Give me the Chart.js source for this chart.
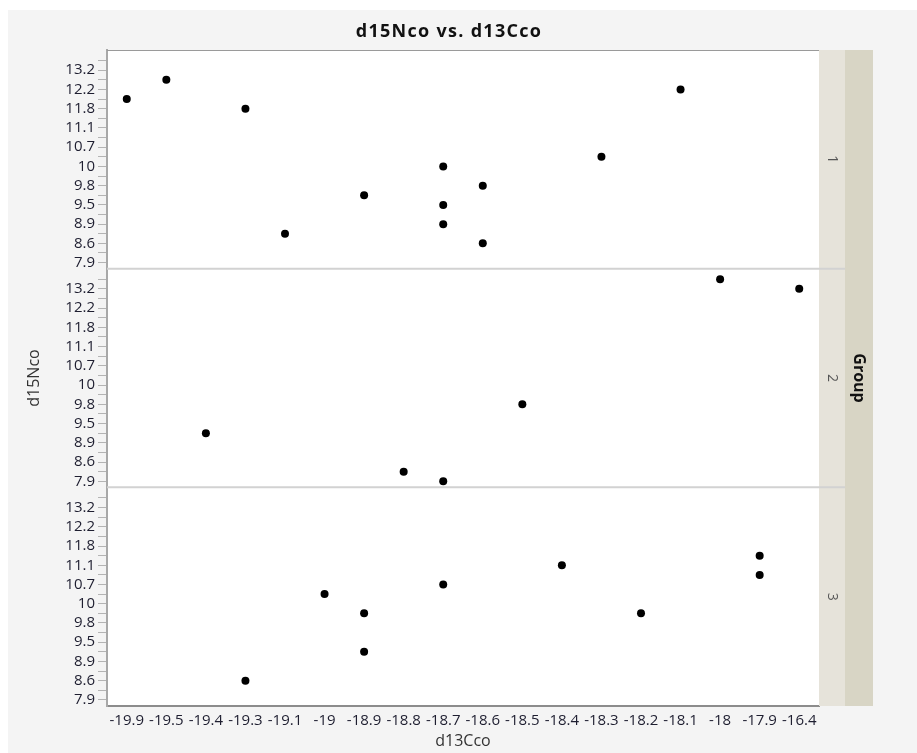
<!DOCTYPE html>
<html>
<head>
<meta charset="utf-8">
<script src="https://cdn.jsdelivr.net/npm/chart.js@4.4.1/dist/chart.umd.min.js"></script>
<style>
  html, body { margin: 0; padding: 0; background: #fff; }
  #wrap { width: 917px; height: 753px; }
</style>
</head>
<body>
<div id="wrap"><canvas id="myChart" width="917" height="753"></canvas></div>
<script>
// x categories (d13Cco), shown in order on an ordinal axis
let xCats = ["-19.9", "-19.5", "-19.4", "-19.3", "-19.1", "-19", "-18.9", "-18.8", "-18.7",
             "-18.6", "-18.5", "-18.4", "-18.3", "-18.2", "-18.1", "-18", "-17.9", "-16.4"];

// y categories (d15Nco), bottom to top; only some get a label
let yCats = [7.9, 8.3, 8.6, 8.8, 8.9, 9.2, 9.5, 9.6, 9.8, 9.9, 10, 10.4,
             10.7, 10.9, 11.1, 11.5, 11.8, 12, 12.2, 12.6, 13.2, 13.6];
let yShown = [7.9, 8.6, 8.9, 9.5, 9.8, 10, 10.7, 11.1, 11.8, 12.2, 13.2];

let groupNames = ["1", "2", "3"];

let g1x = ["-19.9", "-19.5", "-19.3", "-19.1", "-18.9", "-18.7", "-18.7", "-18.7", "-18.6", "-18.6", "-18.3", "-18.1"];
let g1y = [12, 12.6, 11.8, 8.8, 9.6, 10, 9.5, 8.9, 9.8, 8.6, 10.4, 12.2];

let g2x = ["-19.4", "-18.8", "-18.7", "-18.5", "-18", "-16.4"];
let g2y = [9.2, 8.3, 7.9, 9.8, 13.6, 13.2];

let g3x = ["-19.3", "-19", "-18.9", "-18.9", "-18.7", "-18.4", "-18.2", "-17.9", "-17.9"];
let g3y = [8.6, 10.4, 9.9, 9.2, 10.7, 11.1, 9.9, 11.5, 10.9];

const FONT = "'Open Sans', 'Noto Sans', sans-serif";
const TITLE = "d15Nco vs. d13Cco";

function toPoints(xs, ys) {
    return xs.map((x, i) => ({ x: x, y: yCats.indexOf(ys[i]) }));
}

function yAxis(showTitle) {
    return {
        type: "linear",
        position: "left",
        stack: "groups",
        stackWeight: 1,
        min: -0.63,
        max: 22.1,
        afterBuildTicks: s => { s.ticks = yCats.map((v, i) => ({ value: i })); },
        afterFit: s => { s.width = 107; },
        border: { display: true, color: "#a8a8a8", width: 2 },
        grid: { drawOnChartArea: false, drawTicks: true, tickLength: 9, color: "#b4b4b4" },
        ticks: {
            autoSkip: false,
            padding: 3,
            color: "#1e1e30",
            font: { family: FONT, size: 15 },
            callback: v => yShown.includes(yCats[v]) ? String(yCats[v]) : ""
        },
        title: {
            display: showTitle,
            text: "d15Nco",
            color: "#333",
            font: { family: FONT, size: 16 },
            padding: { top: 25, bottom: 0 }
        }
    };
}

// background, frame, title, right-hand group strips
const frame = {
    id: "frame",
    beforeDraw(chart) {
        let ctx = chart.ctx;
        let a = chart.chartArea;
        ctx.save();
        ctx.fillStyle = "#fff";
        ctx.fillRect(0, 0, chart.width, chart.height);
        ctx.fillStyle = "#f4f4f4";
        ctx.fillRect(8, 10, chart.width - 8, chart.height - 10);
        ctx.fillStyle = "#fff";
        ctx.fillRect(a.left, a.top, a.right - a.left, a.bottom - a.top);

        ctx.fillStyle = "#111";
        ctx.font = "bold 18px " + FONT;
        ctx.letterSpacing = "1.3px";
        ctx.textAlign = "center";
        ctx.textBaseline = "middle";
        ctx.fillText(TITLE, 449, 32);
        ctx.restore();
    },
    afterDraw(chart) {
        let ctx = chart.ctx;
        let a = chart.chartArea;
        let panels = [chart.scales.y1, chart.scales.y2, chart.scales.y3];
        ctx.save();
        ctx.fillStyle = "#e6e3da";
        ctx.fillRect(a.right, a.top, 26, a.bottom - a.top);
        ctx.fillStyle = "#d8d5c5";
        ctx.fillRect(a.right + 26, a.top, 28, a.bottom - a.top);

        ctx.strokeStyle = "#9a9a9a";
        ctx.lineWidth = 1;
        ctx.beginPath();
        ctx.moveTo(a.left, a.top + 0.5);
        ctx.lineTo(a.right, a.top + 0.5);
        ctx.stroke();

        ctx.strokeStyle = "#d2d2d2";
        ctx.lineWidth = 2;
        for (let i = 0; i < 2; i++) {
            let y = panels[i].bottom;
            ctx.beginPath();
            ctx.moveTo(a.left, y);
            ctx.lineTo(a.right + 26, y);
            ctx.stroke();
        }

        ctx.fillStyle = "#555";
        ctx.font = "14px " + FONT;
        ctx.textAlign = "center";
        ctx.textBaseline = "middle";
        panels.forEach((p, i) => {
            ctx.save();
            ctx.translate(a.right + 13, (p.top + p.bottom) / 2);
            ctx.rotate(Math.PI / 2);
            ctx.fillText(groupNames[i], 0, 0);
            ctx.restore();
        });

        ctx.fillStyle = "#111";
        ctx.font = "bold 16px " + FONT;
        ctx.translate(a.right + 40, (a.top + a.bottom) / 2);
        ctx.rotate(Math.PI / 2);
        ctx.fillText("Group", 0, 0);
        ctx.restore();
    }
};

function dataset(xs, ys, axisId) {
    return {
        data: toPoints(xs, ys),
        yAxisID: axisId,
        backgroundColor: "#000",
        borderWidth: 0,
        pointRadius: 4,
        pointHoverRadius: 4
    };
}

let chart = new Chart(document.getElementById("myChart"), {
    type: "scatter",
    data: {
        labels: xCats,
        datasets: [
            dataset(g1x, g1y, "y1"),
            dataset(g2x, g2y, "y2"),
            dataset(g3x, g3y, "y3")
        ]
    },
    options: {
        responsive: false,
        animation: false,
        layout: { padding: { left: 0, right: 98, top: 50, bottom: 0 } },
        plugins: {
            legend: { display: false },
            tooltip: { enabled: false },
            title: { display: false }
        },
        scales: {
            x: {
                type: "category",
                offset: true,
                afterFit: s => { s.height = 47; },
                border: { display: true, color: "#8c8c8c", width: 2 },
                grid: { display: false, drawTicks: false },
                ticks: {
                    autoSkip: false,
                    maxRotation: 0,
                    padding: 6,
                    color: "#1e1e30",
                    font: { family: FONT, size: 15 }
                },
                title: {
                    display: true,
                    text: "d13Cco",
                    color: "#333",
                    font: { family: FONT, size: 16 },
                    padding: { top: 0, bottom: 2 }
                }
            },
            y3: yAxis(false),
            y2: yAxis(true),
            y1: yAxis(false)
        }
    },
    plugins: [frame]
});
</script>
</body>
</html>
